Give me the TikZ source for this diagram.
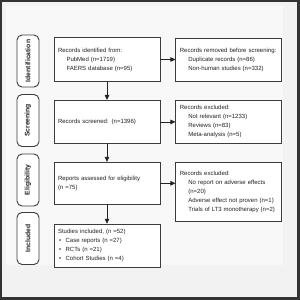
\documentclass[tikz,border=0pt]{standalone}
\usepackage{fontspec}
\setmainfont{Liberation Sans}
\usetikzlibrary{arrows.meta, positioning}
\definecolor{frameink}{HTML}{333333}
\definecolor{pagebg}{HTML}{F2F2F2}
\definecolor{panelbg}{HTML}{F8F8F8}
\definecolor{boxline}{HTML}{3C3C3C}
\definecolor{boxink}{HTML}{222222}
\newcommand{\subind}{\hspace*{8.5pt}}
\newcommand{\bulitem}{\hspace*{1pt}\textbullet\hspace{4.5pt}}
\tikzset{
  stagebox/.style={draw=boxline, fill=white, rounded corners=5pt, minimum width=52pt, minimum height=22pt,
    inner sep=0pt, line width=0.9pt, font=\fontsize{6.8}{8}\selectfont\bfseries, text=boxink},
  lbox/.style={draw=boxline, fill=white, line width=0.9pt, minimum width=106pt, minimum height=43pt,
    text width=98pt, inner xsep=4pt, inner ysep=2pt, align=left, font=\fontsize{6}{9}\selectfont, text=boxink},
  rbox/.style={lbox},
  flow/.style={-{Triangle[length=5pt, width=4.5pt]}, draw=boxink, line width=0.8pt}
}
\begin{document}
\begin{tikzpicture}[x=1pt, y=-1pt, node distance=18pt and 15pt]
\useasboundingbox (0,0) rectangle (300,300);
% frame and panel
\fill[frameink] (0,0) rectangle (300,300);
\fill[pagebg] (2,2) rectangle (297,297);
\fill[panelbg] (6,6) rectangle (283,265);
% main column
\node[lbox, minimum height=44pt] (ident) at (107,59.5) {Records identified from:\\ \subind PubMed (n=1719)\\ \subind FAERS database (n=95)};
\node[lbox, below=of ident] (screen) {Records screened: (n=1396)};
\node[lbox, below=of screen, minimum height=42pt] (elig) {Reports assessed for eligibility\\ (n =75)};
\node[lbox, below=19pt of elig] (incl) {Studies included, (n =52)\\ \bulitem Case reports (n =27)\\ \bulitem RCTs (n =21)\\ \bulitem Cohort Studies (n =4)};
% side column
\node[rbox, right=of ident] (removed) {Records removed before screening:\\ \subind Duplicate records (n=86)\\ \subind Non-human studies (n=332)};
\node[rbox, right=of screen] (excl) {Records excluded:\\ \subind Not relevant (n=1233)\\ \subind Reviews (n=83)\\ \subind Meta-analysis (n=5)};
\node[rbox, anchor=north west, minimum height=59pt] (exclrep) at ([xshift=15pt]elig.north east) {Records excluded:\\ \subind No report on adverse effects\\ \subind (n=20)\\ \subind Adverse effect not proven (n=1)\\ \subind Trials of LT3 monotherapy (n=2)};
% stage labels
\node[stagebox, rotate=90] (lident) at (28,61) {Identification};
\node[stagebox, rotate=90] (lscreen) at (28,120.5) {Screening};
\node[stagebox, rotate=90] (lelig) at (28,180) {Eligibility};
\node[stagebox, rotate=90] (lincl) at (28,238.5) {Included};
% arrows
\draw[flow] (ident) -- (screen);
\draw[flow] (screen) -- (elig);
\draw[flow] (elig) -- (incl);
\draw[flow] (ident) -- (removed);
\draw[flow] (screen) -- (excl);
\draw[flow] (elig.east) -- (elig.east -| exclrep.west);
\end{tikzpicture}
\end{document}
